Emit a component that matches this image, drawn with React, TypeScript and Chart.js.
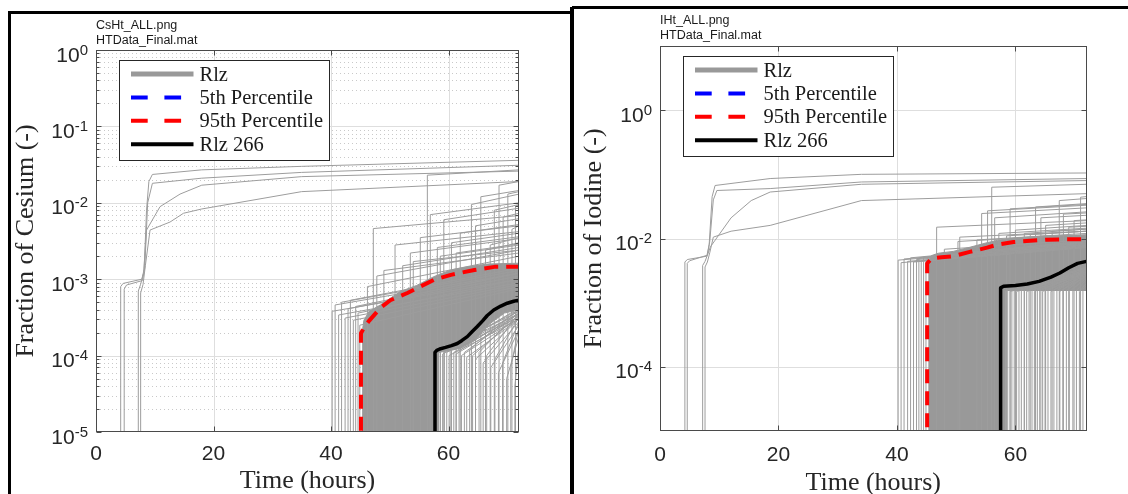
import React, { useEffect, useRef } from 'react';
import { Chart, registerables } from 'chart.js';

Chart.register(...registerables);

type Pt = [number, number | null];

const SANS = '"Liberation Sans", Arial, Helvetica, sans-serif';
const SERIF = '"Liberation Serif", "Times New Roman", Times, serif';

// ---------------- shared ----------------
const T_END = 72; // hours, end of the simulated period
const BELOW = 1e-7; // fraction before a realization starts (below the plotted range)
const xTicks = [0, 20, 40, 60];

// ---------------- Cesium (left) ----------------
const csYTicks = [1e-5, 1e-4, 1e-3, 1e-2, 1e-1, 1];

const csEarly1: Pt[] = [[4.2, BELOW], [4.2, 8.0e-4], [4.6, 8.8e-4], [7.8, 1.0e-3], [8.2, 1.35e-3], [8.6, 8.0e-3], [9.0, 1.9e-2], [9.6, 2.35e-2], [18, 2.7e-2], [35, 3.0e-2], [72, 3.6e-2]];
const csEarly2: Pt[] = [[4.8, BELOW], [4.8, 7.4e-4], [5.2, 8.4e-4], [7.9, 9.6e-4], [8.3, 1.4e-3], [8.8, 1.0e-2], [9.6, 1.8e-2], [18, 2.1e-2], [35, 2.5e-2], [72, 3.1e-2]];
const csEarly3: Pt[] = [[7.2, BELOW], [7.2, 7.0e-4], [7.6, 8.6e-4], [8.1, 1.2e-3], [8.6, 4.4e-3], [10.9, 8.9e-3], [14.3, 1.3e-2], [18, 1.7e-2], [35, 2.2e-2], [72, 2.6e-2]];
const csEarly4: Pt[] = [[7.6, BELOW], [7.6, 6.6e-4], [8.0, 8.5e-4], [8.4, 1.5e-3], [9.2, 4.4e-3], [12.6, 5.6e-3], [14.9, 7.3e-3], [18, 8.3e-3], [35, 1.4e-2], [72, 1.9e-2]];

const csBandTopT = [45.3, 45.6, 46.5, 48.4, 51.8, 54.6, 57.5, 60.4, 63.2, 66.6, 72];
const csBandTopV = [2.0e-4, 2.9e-4, 3.8e-4, 4.6e-4, 6.9e-4, 8.3e-4, 1.08e-3, 1.32e-3, 1.45e-3, 1.58e-3, 1.62e-3];
const csBandLowT = [72, 69.5, 67, 64.5, 62, 60, 58.2, 58.2, 45.3];
const csBandLowV = [4.0e-4, 3.6e-4, 2.6e-4, 1.6e-4, 1.25e-4, 1.15e-4, 1.1e-4, BELOW, BELOW];

const csPreOnset = [40.2, 40.7, 41.3, 41.8, 42.4, 42.9, 43.3, 43.8, 44.2, 44.6, 44.9];
const csPreLevel = [3.8e-4, 4.6e-4, 3.4e-4, 5.0e-4, 3.1e-4, 4.1e-4, 5.3e-4, 2.9e-4, 4.4e-4, 3.6e-4, 2.5e-4];
const csPreEnd = [1.0e-3, 1.2e-3, 9.0e-4, 1.3e-3, 8.5e-4, 1.1e-3, 1.4e-3, 8.0e-4, 1.2e-3, 1.0e-3, 7.5e-4];

const csHighOnset = [46.2, 47.2, 47.8, 49.0, 50.9, 52.2, 53.5, 54.0, 55.2, 56.4, 56.9, 58.1, 58.6, 59.2, 60.5, 61.3, 62.0, 63.9, 64.6, 65.5, 66.3, 67.1, 67.8, 68.6, 69.3, 70.1, 70.8, 71.4];
const csHighLevel = [8.0e-4, 4.6e-3, 1.1e-3, 1.3e-3, 2.8e-3, 1.5e-3, 2.2e-3, 1.7e-3, 3.5e-3, 2.3e-2, 7.0e-3, 2.6e-3, 2.0e-3, 6.0e-3, 3.0e-3, 2.2e-3, 4.0e-3, 9.5e-3, 5.0e-3, 1.2e-2, 2.4e-3, 2.8e-3, 8.0e-3, 1.7e-2, 6.5e-3, 1.3e-2, 4.5e-3, 9.0e-3];
const csHighEnd = [2.0e-3, 6.8e-3, 2.4e-3, 2.2e-3, 4.2e-3, 2.6e-3, 3.4e-3, 2.4e-3, 5.0e-3, 2.7e-2, 1.0e-2, 3.6e-3, 2.8e-3, 8.5e-3, 4.0e-3, 2.9e-3, 5.2e-3, 1.3e-2, 6.2e-3, 1.45e-2, 3.0e-3, 3.5e-3, 9.5e-3, 1.9e-2, 7.3e-3, 1.4e-2, 5.0e-3, 9.4e-3];

const csTailOnset = [58.3, 58.6, 59.0, 59.3, 59.7, 60.1, 60.4, 60.9, 61.3, 61.8, 62.2, 62.7, 63.1, 63.6, 64.1, 64.6, 65.2, 65.9, 66.5, 67.2, 67.9, 68.5, 69.2, 69.9, 70.6, 71.3];
const csTailLevel = [1.1e-4, 1.15e-4, 1.05e-4, 1.2e-4, 1.1e-4, 1.0e-4, 1.2e-4, 1.1e-4, 1.05e-4, 1.15e-4, 1.0e-4, 1.1e-4, 9.5e-5, 1.2e-4, 1.0e-4, 9e-5, 1.1e-4, 8e-5, 1.0e-4, 7e-5, 9e-5, 6e-5, 8e-5, 5e-5, 7e-5, 4e-5];
const csTailEnd = [3.5e-4, 3.8e-4, 3.2e-4, 4.0e-4, 3.6e-4, 3.0e-4, 4.2e-4, 3.5e-4, 3.3e-4, 3.9e-4, 3.1e-4, 3.6e-4, 3.0e-4, 4.1e-4, 3.4e-4, 3.0e-4, 3.8e-4, 2.8e-4, 3.6e-4, 2.5e-4, 3.2e-4, 2.2e-4, 2.8e-4, 1.8e-4, 2.4e-4, 1.4e-4];

const csP5: Pt[] = [[0, null], [72, null]]; // stays at zero: never reaches the plotted range
const csP95: Pt[] = [[45.1, BELOW], [45.1, 1.96e-4], [45.6, 2.3e-4], [46.4, 2.8e-4], [48.4, 4.2e-4], [50.1, 5.3e-4], [53, 6.6e-4], [57.5, 9.8e-4], [60.4, 1.14e-3], [64.4, 1.32e-3], [67.8, 1.45e-3], [72, 1.46e-3]];
const csRlz266: Pt[] = [[57.7, BELOW], [57.7, 1.1e-4], [58.0, 1.17e-4], [58.5, 1.22e-4], [59.5, 1.28e-4], [60.5, 1.35e-4], [61.5, 1.44e-4], [62.3, 1.58e-4], [63.2, 1.77e-4], [64.0, 2.05e-4], [64.9, 2.4e-4], [65.8, 2.85e-4], [66.6, 3.35e-4], [67.7, 3.95e-4], [68.9, 4.45e-4], [70.0, 4.85e-4], [71.1, 5.15e-4], [72, 5.3e-4]];

// ---------------- Iodine (right) ----------------
const iYTicks = [1e-4, 1e-2, 1];

const iEarly1: Pt[] = [[4.2, BELOW], [4.2, 4.3e-3], [4.6, 4.7e-3], [7.9, 5.3e-3], [8.3, 8.0e-3], [8.8, 4.5e-2], [9.3, 6.7e-2], [18.6, 8.6e-2], [34, 1.0e-1], [72, 1.05e-1]];
const iEarly2: Pt[] = [[4.6, BELOW], [4.6, 4.1e-3], [5.0, 4.5e-3], [8.0, 5.5e-3], [8.4, 9.0e-3], [9.0, 4.0e-2], [9.6, 5.6e-2], [18.6, 6.0e-2], [34, 7.6e-2], [72, 8.6e-2]];
const iEarly3: Pt[] = [[7.2, BELOW], [7.2, 3.8e-3], [7.6, 4.4e-3], [8.1, 5.8e-3], [8.5, 7.4e-3], [12, 2.1e-2], [15.4, 3.9e-2], [18.6, 5.3e-2], [34, 7.0e-2], [72, 8.0e-2]];
const iEarly4: Pt[] = [[7.6, BELOW], [7.6, 3.6e-3], [8.0, 4.3e-3], [8.4, 6.0e-3], [9.0, 1.05e-2], [12, 1.3e-2], [18.6, 1.6e-2], [34, 3.9e-2], [72, 5.0e-2]];

const iBandTopT = [45.3, 45.8, 47, 49.5, 52.3, 55.2, 57, 60, 65, 72];
const iBandTopV = [4.2e-3, 5.4e-3, 5.9e-3, 6.3e-3, 7.3e-3, 8.6e-3, 9.4e-3, 1.02e-2, 1.1e-2, 1.12e-2];
const iBandLowT = [72, 58.2, 58.2, 45.3];
const iBandLowV = [1.55e-3, 1.55e-3, BELOW, BELOW];

const iPreOnset = [40.2, 40.7, 41.2, 41.8, 42.3, 42.8, 43.3, 43.7, 44.1, 44.5, 44.9];
const iPreLevel = [4.6e-3, 4.2e-3, 4.8e-3, 4.4e-3, 5.0e-3, 4.3e-3, 4.7e-3, 4.9e-3, 4.5e-3, 5.1e-3, 4.4e-3];
const iPreEnd = [8.0e-3, 7.5e-3, 8.5e-3, 7.8e-3, 9.0e-3, 7.2e-3, 8.2e-3, 8.8e-3, 7.6e-3, 9.2e-3, 7.4e-3];

const iHighOnset = [46.7, 48.0, 50.3, 50.6, 53.5, 54.3, 55.3, 56.0, 56.5, 57.2, 58.5, 59.1, 60.0, 61.5, 62.5, 63.4, 64.3, 65.1, 66.2, 67.4, 68.1, 69.0, 69.9, 71.0];
const iHighLevel = [1.5e-2, 6.8e-3, 9.0e-3, 1.05e-2, 9.5e-3, 2.45e-2, 2.7e-2, 6.3e-2, 2.1e-2, 1.2e-2, 1.1e-2, 2.9e-2, 1.35e-2, 1.2e-2, 1.15e-2, 3.1e-2, 2.1e-2, 1.6e-2, 1.3e-2, 3.9e-2, 2.4e-2, 1.5e-2, 1.9e-2, 4.4e-2];
const iHighEnd = [1.9e-2, 9.5e-3, 1.15e-2, 1.3e-2, 1.2e-2, 3.0e-2, 3.3e-2, 7.0e-2, 2.6e-2, 1.45e-2, 1.3e-2, 3.4e-2, 1.6e-2, 1.4e-2, 1.3e-2, 3.5e-2, 2.3e-2, 1.75e-2, 1.4e-2, 4.2e-2, 2.5e-2, 1.55e-2, 1.95e-2, 4.5e-2];

const iTailOnset = [58.3, 58.7, 59.1, 59.4, 59.8, 60.2, 60.6, 61.0, 61.5, 61.9, 62.3, 62.8, 63.2, 63.7, 64.1, 64.6, 65.0, 65.5, 66.0, 66.5, 67.0, 67.5, 68.0, 68.6, 69.1, 69.7, 70.3, 70.8, 71.4];
const iTailLevel = [1.55e-3, 1.6e-3, 1.5e-3, 1.55e-3, 1.6e-3, 1.5e-3, 1.55e-3, 1.6e-3, 1.55e-3, 1.5e-3, 1.6e-3, 1.55e-3, 1.5e-3, 1.6e-3, 1.55e-3, 1.5e-3, 1.6e-3, 1.55e-3, 1.5e-3, 1.6e-3, 1.55e-3, 1.5e-3, 1.6e-3, 1.55e-3, 1.5e-3, 1.6e-3, 1.55e-3, 1.5e-3, 1.6e-3];
const iTailEnd = [3.0e-3, 3.4e-3, 2.8e-3, 3.2e-3, 3.6e-3, 2.9e-3, 3.1e-3, 3.5e-3, 3.0e-3, 2.8e-3, 3.3e-3, 3.1e-3, 2.9e-3, 3.4e-3, 3.0e-3, 2.8e-3, 3.2e-3, 3.0e-3, 2.7e-3, 3.1e-3, 2.9e-3, 2.6e-3, 2.9e-3, 2.7e-3, 2.4e-3, 2.6e-3, 2.3e-3, 2.0e-3, 1.9e-3];

const iP5: Pt[] = [[0, null], [72, null]];
const iP95: Pt[] = [[45.1, BELOW], [45.1, 4.1e-3], [45.9, 4.9e-3], [47.5, 5.1e-3], [49.5, 5.3e-3], [52.3, 6.2e-3], [55.2, 7.2e-3], [56.9, 8.0e-3], [59.7, 8.8e-3], [65.3, 9.6e-3], [72, 9.8e-3]];
const iRlz266: Pt[] = [[57.5, BELOW], [57.5, 1.7e-3], [58.0, 1.8e-3], [60, 1.85e-3], [62, 1.95e-3], [64, 2.15e-3], [66, 2.5e-3], [67.5, 2.9e-3], [69, 3.5e-3], [70.5, 4.1e-3], [72, 4.4e-3]];

// ---------------- helpers ----------------
const zip = (t: number[], v: number[]): Pt[] => t.map((x, i) => [x, v[i]]);
const onsetCurves = (onset: number[], level: number[], end: number[]): Pt[][] =>
  onset.map((t, i) => [[t, BELOW], [t, level[i]], [T_END, end[i]]]);
const xy = (pts: Pt[]) => pts.map(([x, y]) => ({ x, y }));

interface PanelData {
  early: Pt[][];
  bandTop: Pt[];
  bandLow: Pt[];
  curves: Pt[][];
  p5: Pt[];
  p95: Pt[];
  rlz266: Pt[];
}

const csPanel: PanelData = {
  early: [csEarly1, csEarly2, csEarly3, csEarly4],
  bandTop: zip(csBandTopT, csBandTopV),
  bandLow: zip(csBandLowT, csBandLowV),
  curves: [
    ...onsetCurves(csPreOnset, csPreLevel, csPreEnd),
    ...onsetCurves(csHighOnset, csHighLevel, csHighEnd),
    ...onsetCurves(csTailOnset, csTailLevel, csTailEnd),
  ],
  p5: csP5,
  p95: csP95,
  rlz266: csRlz266,
};

const iPanel: PanelData = {
  early: [iEarly1, iEarly2, iEarly3, iEarly4],
  bandTop: zip(iBandTopT, iBandTopV),
  bandLow: zip(iBandLowT, iBandLowV),
  curves: [
    ...onsetCurves(iPreOnset, iPreLevel, iPreEnd),
    ...onsetCurves(iHighOnset, iHighLevel, iHighEnd),
    ...onsetCurves(iTailOnset, iTailLevel, iTailEnd),
  ],
  p5: iP5,
  p95: iP95,
  rlz266: iRlz266,
};

const GRAY = '#999999';

function buildDatasets(d: PanelData): any[] {
  const base = { pointRadius: 0, tension: 0, fill: false };
  return [
    {
      ...base, label: 'Rlz', data: xy([...d.bandTop, ...d.bandLow]),
      borderColor: GRAY, backgroundColor: GRAY, borderWidth: 1, fill: 'shape', order: 10,
      legendRank: 0, legendWidth: 5,
    },
    ...[...d.early, ...d.curves].map((p) => ({
      ...base, label: 'Rlz', data: xy(p), borderColor: '#9d9d9d', borderWidth: 1, order: 9,
    })),
    {
      ...base, label: '5th Percentile', data: xy(d.p5), borderColor: '#0000ff', borderWidth: 4,
      borderDash: [14, 8], order: 3, legendRank: 1, legendWidth: 4, legendDash: [16.7, 16.7],
    },
    {
      ...base, label: '95th Percentile', data: xy(d.p95), borderColor: '#ff0000', borderWidth: 4,
      borderDash: [14, 8], borderJoinStyle: 'round', order: 2, legendRank: 2, legendWidth: 4, legendDash: [16.7, 16.7],
    },
    {
      ...base, label: 'Rlz 266', data: xy(d.rlz266), borderColor: '#000000', borderWidth: 3.5,
      borderJoinStyle: 'round', order: 1, legendRank: 3, legendWidth: 4,
    },
  ];
}

// ---------------- MATLAB-like axes decoration ----------------
const matlabAxes = {
  id: 'matlabAxes',
  beforeDatasetsDraw(chart: any, _args: any, o: any) {
    const { ctx, chartArea: a } = chart;
    const xs = chart.scales.x;
    const ys = chart.scales.y;
    ctx.save();
    ctx.beginPath();
    ctx.rect(a.left, a.top, a.right - a.left, a.bottom - a.top);
    ctx.clip();
    ctx.lineWidth = 1;
    if (o.minorGrid) {
      ctx.strokeStyle = '#c9c9c9';
      ctx.setLineDash([1, 3]);
      const e0 = Math.round(Math.log10(ys.min));
      const e1 = Math.round(Math.log10(ys.max));
      for (let e = e0; e < e1; e++) {
        for (let m = 2; m <= 9; m++) {
          const py = Math.round(ys.getPixelForValue(m * Math.pow(10, e))) + 0.5;
          ctx.beginPath();
          ctx.moveTo(a.left, py);
          ctx.lineTo(a.right, py);
          ctx.stroke();
        }
      }
    }
    ctx.setLineDash([]);
    ctx.strokeStyle = '#dedede';
    for (const t of ys.ticks) {
      const py = Math.round(ys.getPixelForValue(t.value)) + 0.5;
      ctx.beginPath();
      ctx.moveTo(a.left, py);
      ctx.lineTo(a.right, py);
      ctx.stroke();
    }
    for (const t of xs.ticks) {
      const px = Math.round(xs.getPixelForValue(t.value)) + 0.5;
      ctx.beginPath();
      ctx.moveTo(px, a.top);
      ctx.lineTo(px, a.bottom);
      ctx.stroke();
    }
    ctx.restore();
  },
  afterDatasetsDraw(chart: any, _args: any, o: any) {
    const { ctx, chartArea: a } = chart;
    const xs = chart.scales.x;
    const ys = chart.scales.y;
    ctx.save();
    // box
    ctx.strokeStyle = '#4a4a4a';
    ctx.lineWidth = 1;
    const L = Math.round(a.left) + 0.5, R = Math.round(a.right) - 0.5;
    const T = Math.round(a.top) + 0.5, B = Math.round(a.bottom) - 0.5;
    ctx.strokeRect(L, T, R - L, B - T);
    // tick marks
    ctx.beginPath();
    for (const t of ys.ticks) {
      const py = Math.round(ys.getPixelForValue(t.value)) + 0.5;
      ctx.moveTo(L, py); ctx.lineTo(L + 5, py);
      ctx.moveTo(R, py); ctx.lineTo(R - 5, py);
    }
    if (o.minorGrid) {
      const e0 = Math.round(Math.log10(ys.min));
      const e1 = Math.round(Math.log10(ys.max));
      for (let e = e0; e < e1; e++) {
        for (let m = 2; m <= 9; m++) {
          const py = Math.round(ys.getPixelForValue(m * Math.pow(10, e))) + 0.5;
          ctx.moveTo(L, py); ctx.lineTo(L + 3, py);
          ctx.moveTo(R, py); ctx.lineTo(R - 3, py);
        }
      }
    }
    for (const t of xs.ticks) {
      const px = Math.round(xs.getPixelForValue(t.value)) + 0.5;
      ctx.moveTo(px, B); ctx.lineTo(px, B - 5);
      ctx.moveTo(px, T); ctx.lineTo(px, T + 5);
    }
    ctx.stroke();

    // y tick labels: 10 with superscript exponent
    ctx.fillStyle = '#262626';
    ctx.textBaseline = 'alphabetic';
    for (const t of ys.ticks) {
      const py = ys.getPixelForValue(t.value);
      const expStr = String(Math.round(Math.log10(t.value)));
      ctx.font = `${o.expSize}px ${SANS}`;
      const ew = ctx.measureText(expStr).width;
      const xr = a.left - o.yLabelGap;
      ctx.textAlign = 'left';
      ctx.fillText(expStr, xr - ew, py + o.expDy);
      ctx.font = `${o.tickSize}px ${SANS}`;
      ctx.textAlign = 'right';
      ctx.fillText('10', xr - ew, py + o.baseDy);
    }
    // x tick labels
    ctx.font = `${o.tickSize}px ${SANS}`;
    ctx.textAlign = 'center';
    for (const t of xs.ticks) {
      ctx.fillText(String(t.value), xs.getPixelForValue(t.value), a.bottom + o.xLabelDy);
    }
    // axis titles
    ctx.font = `${o.titleSize}px ${SERIF}`;
    ctx.fillText(o.xTitle, (a.left + a.right) / 2, a.bottom + o.xTitleDy);
    ctx.save();
    ctx.translate(a.left - o.yTitleDx, (a.top + a.bottom) / 2);
    ctx.rotate(-Math.PI / 2);
    ctx.fillText(o.yTitle, 0, 0);
    ctx.restore();
    // header (file names)
    ctx.fillStyle = '#1a1a1a';
    ctx.font = `${o.headerSize}px ${SANS}`;
    ctx.textAlign = 'left';
    ctx.fillText(o.header1, a.left, a.top + o.header1Dy);
    ctx.fillText(o.header2, a.left, a.top + o.header2Dy);
    ctx.restore();
  },
  afterDraw(chart: any, _args: any, o: any) {
    const { ctx, chartArea: a } = chart;
    const lg = o.legend;
    const items = chart.data.datasets
      .filter((d: any) => d.legendRank !== undefined)
      .sort((p: any, q: any) => p.legendRank - q.legendRank);
    const bx = Math.round(a.left + lg.x) + 0.5;
    const by = Math.round(a.top + lg.y) + 0.5;
    ctx.save();
    ctx.fillStyle = '#ffffff';
    ctx.fillRect(bx, by, lg.w, lg.h);
    ctx.strokeStyle = '#262626';
    ctx.lineWidth = 1;
    ctx.strokeRect(bx, by, lg.w, lg.h);
    ctx.font = `${lg.fontSize}px ${SERIF}`;
    ctx.textAlign = 'left';
    ctx.textBaseline = 'alphabetic';
    items.forEach((d: any, i: number) => {
      const yy = by + lg.row0 + i * lg.rowStep;
      ctx.strokeStyle = d.borderColor;
      ctx.lineWidth = d.legendWidth;
      ctx.setLineDash(d.legendDash || []);
      ctx.beginPath();
      ctx.moveTo(bx + lg.line0, yy);
      ctx.lineTo(bx + lg.line1, yy);
      ctx.stroke();
      ctx.setLineDash([]);
      ctx.fillStyle = '#1a1a1a';
      ctx.fillText(d.label, bx + lg.textX, yy + lg.textDy);
    });
    ctx.restore();
  },
};

const legendBox = { x: 23, y: 10, w: 210, h: 100, row0: 13.5, rowStep: 23.4, line0: 11.5, line1: 74, textX: 80, textDy: 6.5, fontSize: 20.5 };

function makeConfig(d: PanelData, yMin: number, yMax: number, yTicks: number[], padding: any, deco: any): any {
  return {
    type: 'line',
    data: { datasets: buildDatasets(d) },
    options: {
      responsive: false,
      animation: false,
      events: [],
      layout: { padding },
      scales: {
        x: {
          type: 'linear', min: 0, max: T_END,
          afterBuildTicks: (s: any) => { s.ticks = xTicks.map((v) => ({ value: v })); },
          afterFit: (s: any) => { s.height = 10; },
          ticks: { display: false }, grid: { display: false }, border: { display: false },
        },
        y: {
          type: 'logarithmic', min: yMin, max: yMax,
          afterBuildTicks: (s: any) => { s.ticks = yTicks.map((v) => ({ value: v })); },
          afterFit: (s: any) => { s.width = 10; },
          ticks: { display: false }, grid: { display: false }, border: { display: false },
        },
      },
      plugins: {
        legend: { display: false },
        tooltip: { enabled: false },
        matlabAxes: {
          tickSize: 21, expSize: 15, titleSize: 26, headerSize: 12.5,
          yLabelGap: 8, baseDy: 11.5, expDy: 4.5,
          legend: legendBox,
          ...deco,
        },
      },
    },
    plugins: [matlabAxes],
  };
}

function Panel({ left, width, config }: { left: number; width: number; config: () => any }) {
  const ref = useRef<HTMLCanvasElement>(null);
  useEffect(() => {
    const chart = new Chart(ref.current as HTMLCanvasElement, config());
    return () => chart.destroy();
  }, []);
  return (
    <canvas
      ref={ref}
      width={width}
      height={494}
      style={{ position: 'absolute', left, top: 0, width, height: 494 }}
    />
  );
}

const csConfig = () =>
  makeConfig(csPanel, 1e-5, 1, csYTicks, { left: 86, top: 50, right: 51, bottom: 52 }, {
    minorGrid: true,
    xTitle: 'Time (hours)', yTitle: 'Fraction of Cesium (-)',
    xLabelDy: 28, xTitleDy: 56, yTitleDx: 63,
    header1: 'CsHt_ALL.png', header2: 'HTData_Final.mat', header1Dy: -21, header2Dy: -6,
  });

const iConfig = () =>
  makeConfig(iPanel, 1e-5, 10, iYTicks, { left: 76, top: 46, right: 41.5, bottom: 53 }, {
    minorGrid: false,
    xTitle: 'Time (hours)', yTitle: 'Fraction of Iodine (-)',
    xLabelDy: 30, xTitleDy: 59, yTitleDx: 59,
    header1: 'IHt_ALL.png', header2: 'HTData_Final.mat', header1Dy: -22, header2Dy: -7,
  });

const bar = (l: number, t: number, w: number, h: number): React.CSSProperties => ({
  position: 'absolute', left: l, top: t, width: w, height: h, background: '#000',
});

export default function App() {
  return (
    <div style={{ position: 'absolute', left: 0, top: 0, width: 1128, height: 494, background: '#fff', overflow: 'hidden' }}>
      <Panel left={0} width={570} config={csConfig} />
      <Panel left={574} width={554} config={iConfig} />
      <div style={bar(9, 11, 562, 3)} />
      <div style={bar(8, 11, 3, 483)} />
      <div style={bar(570, 7, 4, 487)} />
      <div style={bar(572, 6, 556, 3)} />
    </div>
  );
}
